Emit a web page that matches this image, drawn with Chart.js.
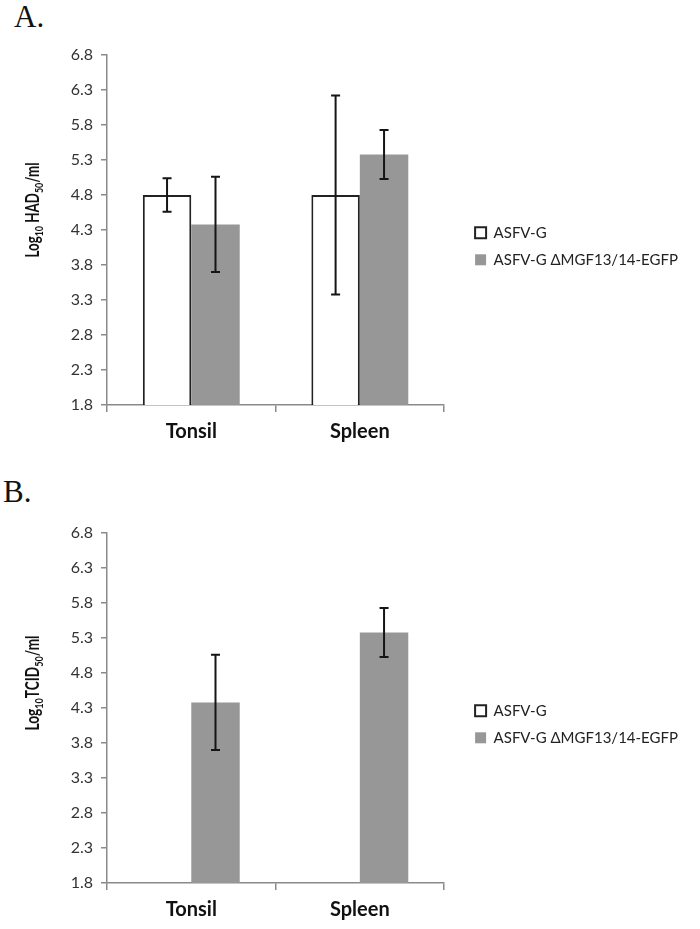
<!DOCTYPE html>
<html><head><meta charset="utf-8">
<script src="https://cdn.jsdelivr.net/npm/chart.js@4.4.1/dist/chart.umd.min.js"></script>
<style>
html,body{margin:0;padding:0;background:#fff;}
body{width:700px;height:929px;position:relative;overflow:hidden;}
.panel{position:absolute;left:0;width:700px;}
.lbl{position:absolute;font-family:"Liberation Serif","DejaVu Serif",serif;font-size:31px;line-height:31px;color:#111;}
</style></head><body>
<div class="lbl" style="left:14px;top:1px">A.</div>
<div class="lbl" style="left:3px;top:476px">B.</div>
<div class="panel" style="top:0;height:462px"><canvas id="cA"></canvas></div>
<div class="panel" style="top:478px;height:451px"><canvas id="cB"></canvas></div>
<script>
// ---- data ----
const categories = ['Tonsil', 'Spleen'];
const seriesNames = ['ASFV-G', 'ASFV-G \u0394MGF13/14-EGFP'];
const hadWild = [4.80, 4.80];
const hadWildErr = [0.24, 1.42];
const hadMutant = [4.38, 5.38];
const hadMutantErr = [0.68, 0.35];
const tcidWild = [null, null];
const tcidWildErr = [null, null];
const tcidMutant = [4.38, 5.38];
const tcidMutantErr = [0.68, 0.35];
const yTickLabels = ['1.8', '2.3', '2.8', '3.3', '3.8', '4.3', '4.8', '5.3', '5.8', '6.3', '6.8'];
const titleA = [['Log', false], ['10', true], [' HAD', false], ['50', true], ['/ml', false]];
const titleB = [['Log', false], ['10', true], ['TCID', false], ['50', true], ['/ml', false]];

const yTickValues = yTickLabels.map(Number);
const AXIS = '#8a8a8a';
const FONT = 'Lato';

const errorBarPlugin = {
  id: 'errbars',
  afterDatasetsDraw(chart) {
    const ctx = chart.ctx, ys = chart.scales.y;
    chart.data.datasets.forEach((ds, i) => {
      const meta = chart.getDatasetMeta(i);
      if (meta.hidden || !ds.errors) return;
      meta.data.forEach((bar, j) => {
        const v = ds.data[j], e = ds.errors[j];
        if (v == null || e == null) return;
        const yt = ys.getPixelForValue(v + e), yb = ys.getPixelForValue(v - e);
        const x = bar.x, c = 4.5;
        ctx.save();
        ctx.strokeStyle = '#151515'; ctx.lineWidth = 2;
        ctx.beginPath();
        ctx.moveTo(x, yt); ctx.lineTo(x, yb);
        ctx.moveTo(x - c, yt); ctx.lineTo(x + c, yt);
        ctx.moveTo(x - c, yb); ctx.lineTo(x + c, yb);
        ctx.stroke();
        ctx.restore();
      });
    });
  }
};

const yTitlePlugin = {
  id: 'ytitle',
  afterDraw(chart, args, opts) {
    const runs = opts.runs; if (!runs) return;
    const ctx = chart.ctx;
    ctx.save();
    const fonts = runs.map(r => `bold ${r[1] ? 12 : 18}px ${FONT}`);
    let total = 0;
    const widths = runs.map((r, k) => { ctx.font = fonts[k]; const w = ctx.measureText(r[0]).width; total += w; return w; });
    const sx = Math.min(1, opts.length / total);
    const cy = chart.chartArea.top + opts.centerFromTop;
    ctx.translate(opts.x, cy);
    ctx.rotate(-Math.PI / 2);
    ctx.scale(sx, 1);
    let x = -total / 2;
    ctx.fillStyle = '#111';
    ctx.textBaseline = 'alphabetic';
    runs.forEach((r, k) => {
      ctx.font = fonts[k];
      ctx.fillText(r[0], x, r[1] ? 10 : 6);
      x += widths[k];
    });
    ctx.restore();
  }
};

function makeChart(id, wild, wildErr, mut, mutErr, titleRuns, titleCenter, xHeight) {
  return new Chart(document.getElementById(id), {
    type: 'bar',
    data: {
      labels: categories,
      datasets: [
        { label: seriesNames[0], data: wild, errors: wildErr, backgroundColor: '#ffffff',
          borderColor: '#222222', borderWidth: 2, borderSkipped: false },
        { label: seriesNames[1], data: mut, errors: mutErr, backgroundColor: '#979797',
          borderColor: '#979797', borderWidth: 0 }
      ]
    },
    options: {
      responsive: true, maintainAspectRatio: false, animation: false,
      devicePixelRatio: 1,
      categoryPercentage: 0.575, barPercentage: 1.0,
      layout: { padding: { top: 55, left: 0, right: 12, bottom: 0 } },
      scales: {
        x: {
          offset: true,
          grid: { offset: true, drawOnChartArea: false, drawTicks: true, tickLength: 7, color: AXIS, lineWidth: 1.5 },
          border: { display: true, color: AXIS, width: 1.5 },
          ticks: { color: '#111', padding: 8, font: { family: FONT, size: 20, weight: 'bold' } },
          afterFit(s) { s.height = xHeight; }
        },
        y: {
          min: 1.8, max: 6.8,
          afterBuildTicks(s) { s.ticks = yTickValues.map(v => ({ value: v })); },
          grid: { drawOnChartArea: false, drawTicks: true, tickLength: 6, color: AXIS, lineWidth: 1.5 },
          border: { display: true, color: AXIS, width: 1.5 },
          ticks: { color: '#333', padding: 8, font: { family: FONT, size: 16 },
                   callback: (v, i) => yTickLabels[i] },
          afterFit(s) { s.width = 107; }
        },
        y2: {
          position: 'right', display: true,
          grid: { display: false }, border: { display: false }, ticks: { display: false },
          afterFit(s) { s.width = 19; }
        }
      },
      plugins: {
        legend: {
          position: 'right', align: 'center', fullSize: false, maxWidth: 400,
          title: { display: true, text: ' ', color: 'rgba(0,0,0,0)', font: { size: 13 }, padding: { top: 0, bottom: 17 } },
          labels: { font: { family: FONT, size: 15 }, color: '#222', boxWidth: 11, boxHeight: 11, padding: 12 }
        },
        tooltip: { enabled: false },
        ytitle: { runs: titleRuns, x: 33, centerFromTop: titleCenter, length: 95 }
      }
    },
    plugins: [errorBarPlugin, yTitlePlugin]
  });
}

makeChart('cA', hadWild, hadWildErr, hadMutant, hadMutantErr, titleA, 155, 57);
makeChart('cB', tcidWild, tcidWildErr, tcidMutant, tcidMutantErr, titleB, 150, 46);
</script>
</body></html>
